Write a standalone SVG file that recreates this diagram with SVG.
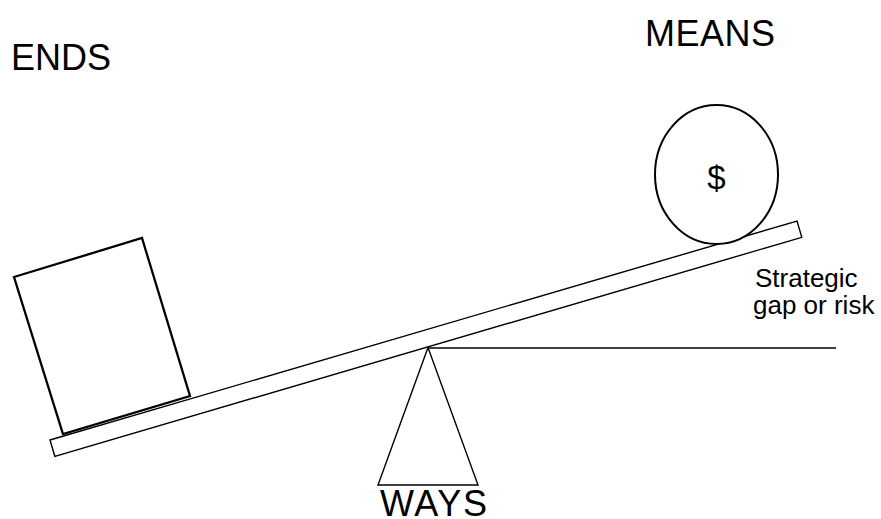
<svg xmlns="http://www.w3.org/2000/svg" width="881" height="519" viewBox="0 0 881 519">
<style>
.label{font-family:"Liberation Sans",Arial,sans-serif;fill:#000}
.big{font-size:36px}
.small{font-size:26px}
.shape{fill:#fff;stroke:#000;stroke-linejoin:miter}
</style>
<rect width="881" height="519" fill="#fff"/>
<g id="ends-label"><text class="label big" x="11" y="70">ENDS</text></g>
<g id="means-label"><text class="label big" x="645" y="46" textLength="130">MEANS</text></g>
<g id="beam"><polygon class="shape" stroke-width="1.4" points="50,440 797,221 801.8,237.3 54.8,456.3"/></g>
<g id="box"><polygon class="shape" stroke-width="2.3" points="14,277 142,238 190,396 63,434"/></g>
<g id="coin">
<ellipse class="shape" stroke-width="2" cx="716.5" cy="174.5" rx="61.5" ry="69.5"/>
<text class="label" x="716.5" y="188.5" font-size="33" text-anchor="middle">$</text>
</g>
<g id="fulcrum"><polygon class="shape" stroke-width="1.4" points="428,347.5 378,485 478,485"/></g>
<g id="ways-label"><text class="label big" x="380" y="516" textLength="107">WAYS</text></g>
<g id="gap-label">
<text class="label small" x="755" y="287">Strategic</text>
<text class="label small" x="753" y="314">gap or risk</text>
</g>
<g id="connectors"><line x1="428" y1="348" x2="836" y2="348" stroke="#000" stroke-width="1.4"/></g>
</svg>
